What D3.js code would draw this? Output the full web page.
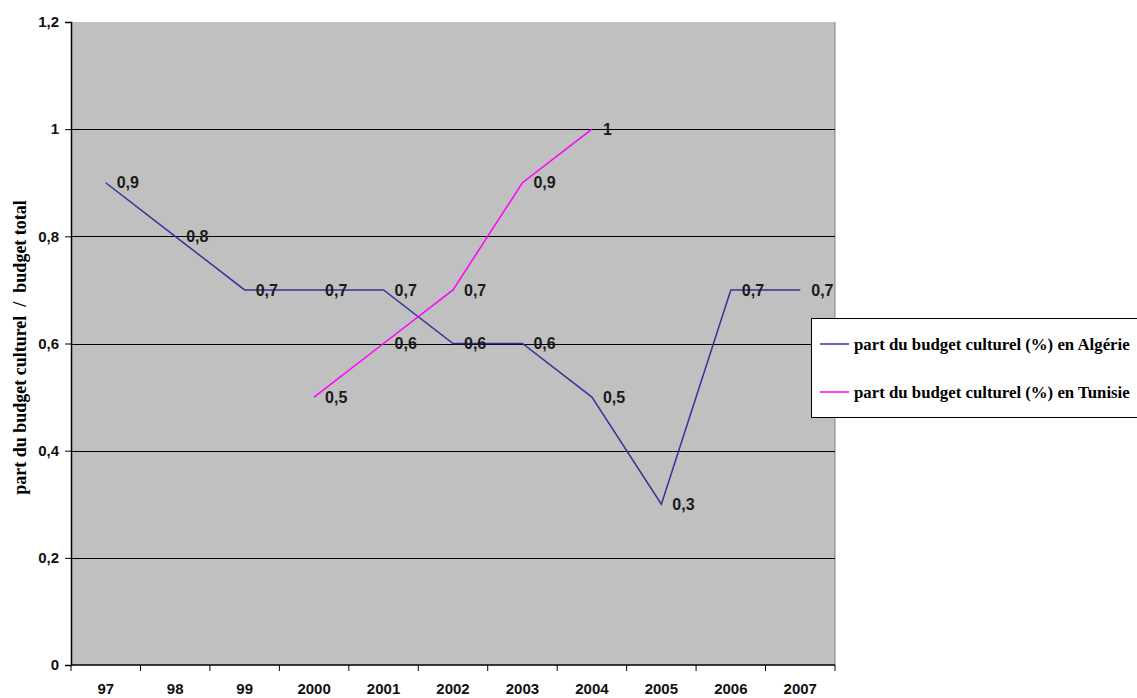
<!DOCTYPE html>
<html>
<head>
<meta charset="utf-8">
<script src="https://cdn.jsdelivr.net/npm/d3@7"></script>
<style>
  body { margin: 0; background: #fff; }
  svg { display: block; }
</style>
</head>
<body>
<svg id="chart"></svg>
<script>
const years = ["97", "98", "99", "2000", "2001", "2002", "2003", "2004", "2005", "2006", "2007"];
const algerie = [0.9, 0.8, 0.7, 0.7, 0.7, 0.6, 0.6, 0.5, 0.3, 0.7, 0.7];
const tunisie = [null, null, null, 0.5, 0.6, 0.7, 0.9, 1, null, null, null];
const yTicks = [0, 0.2, 0.4, 0.6, 0.8, 1, 1.2];
const seriesNames = ["part du budget culturel (%) en Algérie", "part du budget culturel (%) en Tunisie"];
const seriesColors = ["#333399", "#ff00ff"];

const width = 1137;
const height = 698;
const margin = {top: 22, right: 302, bottom: 33, left: 71};

const fmt = d => String(d).replace(".", ",");

const svg = d3.select('#chart')
  .attr('width', width)
  .attr('height', height);

const x = d3.scaleBand()
  .domain(years)
  .range([margin.left, width - margin.right]);

const y = d3.scaleLinear()
  .domain([0, 1.2])
  .range([height - margin.bottom, margin.top]);

// plot background
svg.append('rect')
  .attr('x', margin.left)
  .attr('y', margin.top)
  .attr('width', width - margin.left - margin.right)
  .attr('height', height - margin.top - margin.bottom)
  .attr('fill', '#c0c0c0');

// right border of plot
svg.append('line')
  .attr('x1', width - margin.right).attr('x2', width - margin.right)
  .attr('y1', margin.top).attr('y2', height - margin.bottom)
  .attr('stroke', '#808080');

// gridlines
svg.append('g')
  .selectAll('line')
  .data(yTicks.filter(d => d > 0 && d < 1.2))
  .enter().append('line')
  .attr('x1', margin.left)
  .attr('x2', width - margin.right)
  .attr('y1', d => Math.round(y(d)) + 0.5)
  .attr('y2', d => Math.round(y(d)) + 0.5)
  .attr('stroke', '#000');

// y axis
const yAxis = d3.axisLeft(y).tickValues(yTicks).tickFormat(fmt).tickSize(6).tickPadding(6);
const yAxisG = svg.append('g')
  .attr('transform', `translate(${margin.left}, 0)`)
  .call(yAxis);
yAxisG.select('.domain').attr('stroke', '#000').attr('stroke-width', 1.5);
yAxisG.selectAll('text')
  .style('font-family', '"Liberation Sans", Arial, sans-serif')
  .style('font-size', '15px')
  .style('font-weight', 'bold')
  .attr('fill', '#111');

// x axis (labels centred in bands, ticks at band edges)
const xAxis = d3.axisBottom(x).tickSize(0).tickPadding(18);
const xAxisG = svg.append('g')
  .attr('transform', `translate(0, ${height - margin.bottom})`)
  .call(xAxis);
xAxisG.select('.domain').remove();
xAxisG.selectAll('text')
  .style('font-family', '"Liberation Sans", Arial, sans-serif')
  .style('font-size', '15px')
  .style('font-weight', 'bold')
  .attr('fill', '#111');

const edges = years.map(d => x(d)).concat([x(years[years.length - 1]) + x.bandwidth()]);
xAxisG.selectAll('.edge')
  .data(edges)
  .enter().append('line')
  .attr('class', 'edge')
  .attr('x1', d => d).attr('x2', d => d)
  .attr('y1', 0).attr('y2', 6)
  .attr('stroke', '#000');
xAxisG.append('line')
  .attr('x1', margin.left).attr('x2', width - margin.right)
  .attr('y1', 0).attr('y2', 0)
  .attr('stroke', '#000')
  .attr('stroke-width', 1.5);

// y axis title
svg.append('text')
  .attr('transform', `translate(26, ${(margin.top + height - margin.bottom) / 2 + 4}) rotate(-90)`)
  .attr('text-anchor', 'middle')
  .style('font-family', '"Liberation Serif", "Times New Roman", serif')
  .style('font-size', '18px')
  .style('font-weight', 'bold')
  .style('white-space', 'pre')
  .attr('xml:space', 'preserve')
  .text('part du budget culturel  /  budget total');

// lines
const line = d3.line()
  .defined(d => d.v !== null)
  .x(d => x(d.year) + x.bandwidth() / 2)
  .y(d => y(d.v));

[algerie, tunisie].forEach((vals, i) => {
  const pts = years.map((yr, j) => ({year: yr, v: vals[j]}));
  svg.append('path')
    .datum(pts)
    .attr('fill', 'none')
    .attr('stroke', seriesColors[i])
    .attr('stroke-width', 1.5)
    .attr('d', line);

  svg.append('g')
    .selectAll('text')
    .data(pts.filter(d => d.v !== null))
    .enter().append('text')
    .attr('x', d => x(d.year) + x.bandwidth() / 2 + 11)
    .attr('y', d => y(d.v))
    .attr('dy', '0.35em')
    .style('font-family', '"Liberation Sans", Arial, sans-serif')
    .style('font-size', '16px')
    .style('font-weight', 'bold')
    .attr('fill', '#1a1a1a')
    .text(d => fmt(d.v));
});

// legend
const legend = svg.append('g').attr('transform', 'translate(811, 318)');
legend.append('rect')
  .attr('x', 0.5).attr('y', 0.5)
  .attr('width', 340).attr('height', 99)
  .attr('fill', '#fff')
  .attr('stroke', '#000');

seriesNames.forEach((name, i) => {
  const row = legend.append('g').attr('transform', `translate(0, ${26 + i * 48})`);
  row.append('line')
    .attr('x1', 9).attr('x2', 38)
    .attr('y1', 0).attr('y2', 0)
    .attr('stroke', seriesColors[i])
    .attr('stroke-width', 1.5);
  row.append('text')
    .attr('x', 43)
    .attr('y', 0)
    .attr('dy', '0.35em')
    .style('font-family', '"Liberation Serif", "Times New Roman", serif')
    .style('font-size', '16.8px')
    .style('font-weight', 'bold')
    .attr('fill', '#000')
    .text(name);
});
</script>
</body>
</html>
